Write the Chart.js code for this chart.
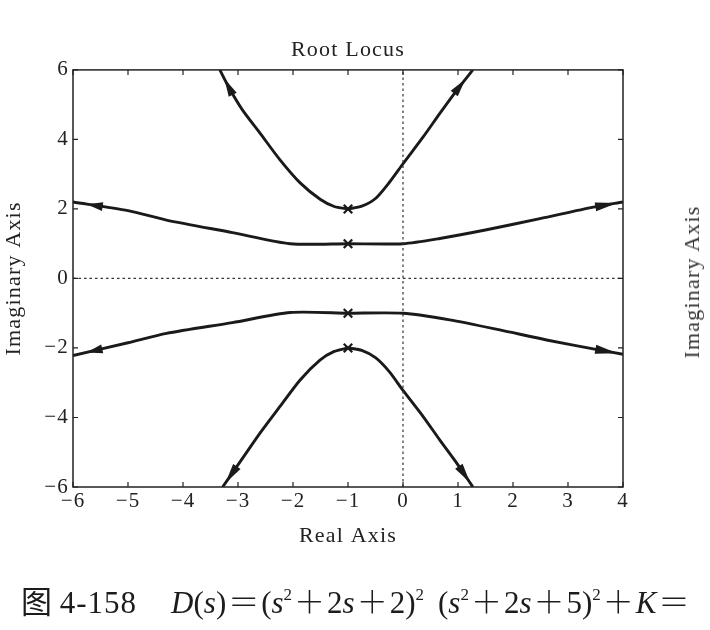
<!DOCTYPE html>
<html>
<head>
<meta charset="utf-8">
<script src="https://cdn.jsdelivr.net/npm/chart.js@4.4.1/dist/chart.umd.min.js"></script>
<style>
  html, body { margin: 0; padding: 0; background: #fff; }
  #wrap { position: relative; width: 710px; height: 630px; overflow: hidden; }
  #caption { position: absolute; left: 21px; top: 583px; white-space: nowrap; font-family: 'Liberation Serif', serif; font-size: 31px; line-height: 34px; color: #1c1c1c; }
  .cjk { font-family: 'Noto Sans CJK SC'; }
  .num { letter-spacing: 1px; }
  .op { font-family: 'Noto Sans CJK SC'; font-weight: 300; margin: 0 2px; }
  .sup { font-size: 17px; position: relative; top: -13px; }
  #ghost { position: absolute; left: 692px; top: 282px; transform: translate(-50%, -50%) rotate(-90deg); font-family: 'Liberation Serif', serif; font-size: 22px; letter-spacing: 1.2px; color: #333; white-space: nowrap; }
</style>
</head>
<body>
<div id="wrap">
  <canvas id="c" width="710" height="630"></canvas>
  <div id="ghost">Imaginary Axis</div>
  <div id="caption"><span class="cjk">图</span> <span class="num">4-158</span><span style="margin-left:34px"></span><i>D</i>(<i>s</i>)<span class="op">＝</span>(<i>s</i><span class="sup">2</span><span class="op">＋</span>2<i>s</i><span class="op">＋</span>2)<span class="sup">2</span><span style="margin-left:14px"></span>(<i>s</i><span class="sup">2</span><span class="op">＋</span>2<i>s</i><span class="op">＋</span>5)<span class="sup">2</span><span class="op">＋</span><i>K</i><span class="op">＝</span></div>
</div>
<script>
// poles of D(s) (double poles at -1±j, -1±2j)
const poleX = [-1, -1, -1, -1];
const poleY = [2, 1, -1, -2];

// branches leaving -1+2j
const upLeftX  = [-1, -1.25, -1.5, -1.87, -2.24, -2.6, -2.92, -3.15, -3.33];
const upLeftY  = [2, 2.07, 2.27, 2.75, 3.42, 4.18, 4.85, 5.45, 6];
const upRightX = [-1, -0.75, -0.5, -0.25, 0, 0.37, 0.67, 0.98, 1.27];
const upRightY = [2, 2.08, 2.3, 2.76, 3.3, 4.08, 4.75, 5.42, 6];

// branches leaving -1+j
const midUpLeftX  = [-1, -2.05, -3.1, -4.3, -5.0, -6];
const midUpLeftY  = [1, 1.0, 1.32, 1.68, 1.95, 2.2];
const midUpRightX = [-1, 0, 0.67, 1.52, 2.49, 3.46, 4];
const midUpRightY = [1, 1, 1.15, 1.4, 1.72, 2.05, 2.2];

// branches leaving -1-j
const midLoLeftX  = [-1, -2.05, -3.1, -4.3, -5.0, -6];
const midLoLeftY  = [-1, -0.98, -1.27, -1.58, -1.85, -2.22];
const midLoRightX = [-1, 0, 0.85, 1.76, 2.61, 3.58, 4];
const midLoRightY = [-1, -1, -1.19, -1.48, -1.77, -2.06, -2.18];

// branches leaving -1-2j
const loLeftX  = [-1, -1.25, -1.51, -1.87, -2.24, -2.6, -2.96, -3.28];
const loLeftY  = [-2, -2.1, -2.35, -2.92, -3.69, -4.45, -5.27, -6];
const loRightX = [-1, -0.75, -0.5, -0.25, 0, 0.37, 0.67, 0.98, 1.27];
const loRightY = [-2, -2.07, -2.28, -2.68, -3.22, -3.98, -4.65, -5.32, -6];

// dotted axes through the origin
const hLineX = [-6, 4];
const hLineY = [0, 0];
const vLineX = [0, 0];
const vLineY = [-6, 6];

const xTicks = [-6, -5, -4, -3, -2, -1, 0, 1, 2, 3, 4];
const yTicks = [-6, -4, -2, 0, 2, 4, 6];

const pts = (xs, ys) => xs.map((v, i) => ({ x: v, y: ys[i] }));
const minus = v => String(v).replace('-', '\u2212');

const INK = '#1a1a1a';

function branch(xs, ys, arrow) {
  return {
    data: pts(xs, ys),
    showLine: true,
    borderColor: INK,
    borderWidth: 2.9,
    pointRadius: 0,
    tension: 0.25,
    arrow: arrow
  };
}

function dotted(xs, ys) {
  return {
    data: pts(xs, ys),
    showLine: true,
    borderColor: '#333',
    borderWidth: 1.2,
    borderDash: [2.5, 3],
    pointRadius: 0
  };
}

// the scanned lettering runs a little wide
const spacing = {
  id: 'spacing',
  beforeUpdate(chart) { chart.ctx.letterSpacing = '1.2px'; },
  beforeDraw(chart) { chart.ctx.letterSpacing = '1.2px'; }
};

const arrowPlugin = {
  id: 'arrows',
  afterDatasetsDraw(chart) {
    const ctx = chart.ctx;
    chart.data.datasets.forEach((ds, i) => {
      if (!ds.arrow) return;
      const el = chart.getDatasetMeta(i).data;
      const a = el[el.length - 2], b = el[el.length - 1];
      const dx = b.x - a.x, dy = b.y - a.y;
      const d = Math.hypot(dx, dy);
      const ux = dx / d, uy = dy / d;
      const tx = b.x - ux * ds.arrow.back, ty = b.y - uy * ds.arrow.back;
      const bx = tx - ux * ds.arrow.len, by = ty - uy * ds.arrow.len;
      const w = 4.5;
      ctx.save();
      ctx.fillStyle = INK;
      ctx.beginPath();
      ctx.moveTo(tx, ty);
      ctx.lineTo(bx - uy * w, by + ux * w);
      ctx.lineTo(bx + uy * w, by - ux * w);
      ctx.closePath();
      ctx.fill();
      ctx.restore();
    });
  }
};

const framePlugin = {
  id: 'frame',
  afterDraw(chart) {
    const { ctx, chartArea: a, scales: { x, y } } = chart;
    ctx.save();
    ctx.strokeStyle = '#222';
    ctx.lineWidth = 1.5;
    ctx.strokeRect(a.left, a.top, a.right - a.left, a.bottom - a.top);
    ctx.lineWidth = 1.2;
    ctx.beginPath();
    xTicks.forEach(v => {
      const p = x.getPixelForValue(v);
      ctx.moveTo(p, a.bottom); ctx.lineTo(p, a.bottom - 5);
      ctx.moveTo(p, a.top); ctx.lineTo(p, a.top + 5);
    });
    yTicks.forEach(v => {
      const p = y.getPixelForValue(v);
      ctx.moveTo(a.left, p); ctx.lineTo(a.left + 5, p);
      ctx.moveTo(a.right, p); ctx.lineTo(a.right - 5, p);
    });
    ctx.stroke();
    ctx.restore();
  }
};

Chart.defaults.font.family = "'Liberation Serif', serif";
Chart.defaults.color = '#222';

new Chart(document.getElementById('c'), {
  type: 'scatter',
  data: {
    datasets: [
      dotted(hLineX, hLineY),
      dotted(vLineX, vLineY),
      branch(upLeftX, upLeftY, { back: 10, len: 18 }),
      branch(upRightX, upRightY, { back: 12, len: 18 }),
      branch(midUpLeftX, midUpLeftY, { back: 14, len: 16 }),
      branch(midUpRightX, midUpRightY, { back: 6, len: 22 }),
      branch(midLoLeftX, midLoLeftY, { back: 14, len: 16 }),
      branch(midLoRightX, midLoRightY, { back: 6, len: 22 }),
      branch(loLeftX, loLeftY, { back: 5, len: 20 }),
      branch(loRightX, loRightY, { back: 5, len: 20 }),
      {
        data: pts(poleX, poleY),
        pointStyle: 'crossRot',
        pointRadius: 6,
        pointBorderWidth: 2.2,
        borderColor: INK,
        backgroundColor: INK
      }
    ]
  },
  options: {
    responsive: false,
    animation: false,
    events: [],
    layout: { padding: { left: 0, right: 87, top: 0, bottom: 81 } },
    plugins: {
      legend: { display: false },
      tooltip: { enabled: false },
      title: {
        display: true,
        text: 'Root Locus',
        fullSize: false,
        font: { size: 22, weight: 'normal' },
        padding: { top: 37.5, bottom: 6 }
      }
    },
    scales: {
      x: {
        type: 'linear',
        min: -6, max: 4,
        afterBuildTicks: s => { s.ticks = xTicks.map(v => ({ value: v })); },
        afterFit: s => { s.height = 62; s.paddingLeft = 0; s.paddingRight = 0; },
        grid: { display: false, drawTicks: false },
        border: { display: false },
        ticks: { padding: 1.5, font: { size: 21 }, callback: v => minus(v) },
        title: { display: true, text: 'Real Axis', font: { size: 22 }, padding: { top: 0, bottom: 0 } }
      },
      y: {
        type: 'linear',
        min: -6, max: 6,
        afterBuildTicks: s => { s.ticks = yTicks.map(v => ({ value: v })); },
        afterFit: s => { s.width = 73; s.paddingTop = 0; s.paddingBottom = 0; },
        grid: { display: false, drawTicks: false },
        border: { display: false },
        ticks: { padding: 4, font: { size: 21 }, callback: v => minus(v) },
        title: { display: true, text: 'Imaginary Axis', font: { size: 22 }, padding: { top: 1, bottom: 0 } }
      }
    }
  },
  plugins: [spacing, arrowPlugin, framePlugin]
});
</script>
</body>
</html>
